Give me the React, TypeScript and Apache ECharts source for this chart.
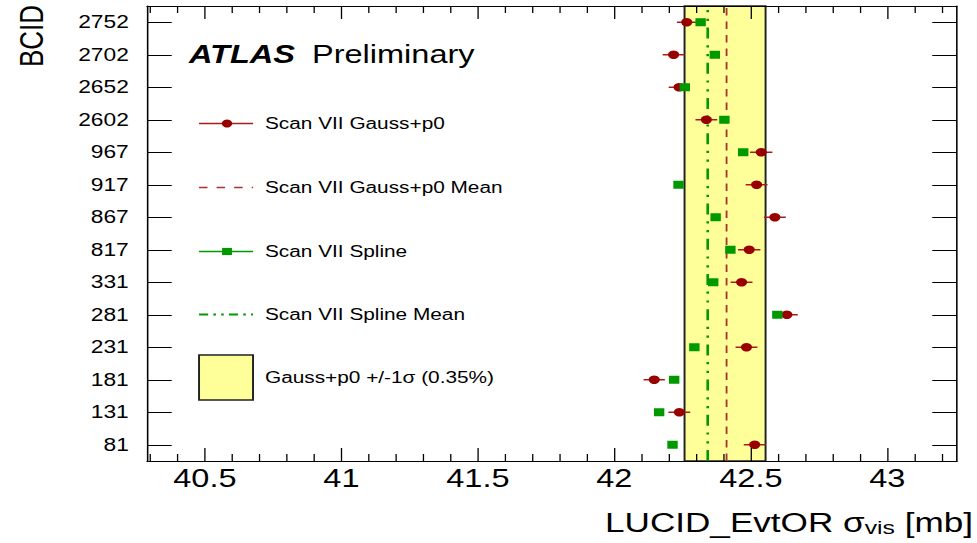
import React, { useEffect, useRef } from "react";
import * as echarts from "echarts";

// Drawing surface is laid out narrow and widened with a horizontal scale.
const CANVAS_W = 751;
const CANVAS_H = 543;
const STRETCH = 977 / CANVAS_W;

const FONT = "'Liberation Sans', Arial, Helvetica, sans-serif";

// Bunch crossing IDs, bottom to top
const bcids = ["81", "131", "181", "231", "281", "331", "817", "867", "917", "967", "2602", "2652", "2702", "2752"];

// sigma_vis [mb] per BCID, Gauss+p0 fit
const gaussValues = [42.514, 42.238, 42.146, 42.484, 42.632, 42.466, 42.494, 42.588, 42.521, 42.538, 42.337, 42.237, 42.217, 42.265];
const gaussErrors = [0.04, 0.04, 0.039, 0.04, 0.04, 0.04, 0.041, 0.04, 0.04, 0.041, 0.04, 0.038, 0.04, 0.036];

// sigma_vis [mb] per BCID, spline fit
const splineValues = [42.213, 42.164, 42.219, 42.293, 42.597, 42.362, 42.425, 42.371, 42.235, 42.472, 42.403, 42.258, 42.368, 42.316];

// relative width of the +/-1 sigma band, in percent
const sigmaPercent = 0.35;

const xMin = 40.288;
const xMax = 43.255;
const majorTicks = [40.5, 41, 41.5, 42, 42.5, 43];
const minorTicks = [40.3, 40.4, 40.6, 40.7, 40.8, 40.9, 41.1, 41.2, 41.3, 41.4, 41.6, 41.7, 41.8, 41.9, 42.1, 42.2, 42.3, 42.4, 42.6, 42.7, 42.8, 42.9, 43.1, 43.2];

const RED = "#990000";
const RED_BAR = "#a81c1c";
const RED_DASH = "#a83232";
const GREEN = "#009900";
const BAND = "#ffff99";

const mean = (a: number[]) => a.reduce((s, v) => s + v, 0) / a.length;

export default function App() {
  const ref = useRef<HTMLDivElement>(null);

  useEffect(() => {
    if (!ref.current) return;
    const chart = echarts.init(ref.current, undefined, { renderer: "svg", width: CANVAS_W, height: CANVAS_H });

    const gaussMean = mean(gaussValues);
    const splineMean = mean(splineValues);
    const halfBand = gaussMean * sigmaPercent / 100;

    const frameLine = { color: "#000", width: 1.2 };
    const tickLine = { color: "#000", width: 1 };

    const xBase = {
      type: "value" as const,
      min: xMin,
      max: xMax,
      z: 10,
      splitLine: { show: false },
    };

    const legendY = [123.5, 187.5, 251.5, 314.5, 377.5];
    const lx1 = 153, lx2 = 194.5, lmid = 174.5, ltx = 203.7;
    const legendText = (y: number, text: string) => ({
      type: "text",
      x: ltx,
      y,
      style: { text, fontSize: 16, fontFamily: FONT, fill: "#000", align: "left", verticalAlign: "middle" },
    });

    chart.setOption({
      animation: false,
      backgroundColor: "#fff",
      grid: { left: 113, right: 15.4, top: 6, bottom: 82, outerBoundsMode: "none", containLabel: false },
      xAxis: [
        {
          ...xBase,
          position: "bottom",
          axisLine: { show: true, onZero: false, lineStyle: frameLine },
          axisTick: { show: true, inside: true, length: 13, customValues: majorTicks, lineStyle: tickLine },
          axisLabel: { show: true, customValues: majorTicks, margin: 5, fontSize: 25, fontFamily: FONT, color: "#000" },
        },
        {
          ...xBase,
          position: "bottom",
          axisLine: { show: false, onZero: false },
          axisTick: { show: true, inside: true, length: 7, customValues: minorTicks, lineStyle: tickLine },
          axisLabel: { show: false },
        },
        {
          ...xBase,
          position: "top",
          axisLine: { show: true, onZero: false, lineStyle: frameLine },
          axisTick: { show: true, inside: true, length: 13, customValues: majorTicks, lineStyle: tickLine },
          axisLabel: { show: false },
        },
        {
          ...xBase,
          position: "top",
          axisLine: { show: false, onZero: false },
          axisTick: { show: true, inside: true, length: 7, customValues: minorTicks, lineStyle: tickLine },
          axisLabel: { show: false },
        },
      ],
      yAxis: [
        {
          type: "category",
          data: bcids,
          position: "left",
          z: 10,
          axisLine: { show: true, onZero: false, lineStyle: frameLine },
          axisTick: { show: true, inside: true, alignWithLabel: true, length: 19, lineStyle: tickLine },
          axisLabel: { show: true, margin: 14, fontSize: 17.5, fontFamily: FONT, color: "#000" },
          splitLine: { show: false },
        },
        {
          type: "category",
          data: bcids,
          position: "right",
          z: 10,
          axisLine: { show: true, onZero: false, lineStyle: frameLine },
          axisTick: { show: true, inside: true, alignWithLabel: true, length: 19, lineStyle: tickLine },
          axisLabel: { show: false },
          splitLine: { show: false },
        },
      ],
      series: [
        {
          name: "Scan VII Gauss+p0 errors",
          type: "custom",
          xAxisIndex: 0,
          yAxisIndex: 0,
          z: 3,
          encode: { x: [0, 1], y: 2 },
          data: gaussValues.map((v, i) => [v - gaussErrors[i], v + gaussErrors[i], i]),
          renderItem: (_params: any, api: any) => {
            const a = api.coord([api.value(0), api.value(2)]);
            const b = api.coord([api.value(1), api.value(2)]);
            return {
              type: "line",
              shape: { x1: a[0], y1: a[1], x2: b[0], y2: b[1] },
              style: { stroke: RED_BAR, lineWidth: 1.5 },
            };
          },
        },
        {
          name: "Scan VII Gauss+p0",
          type: "scatter",
          xAxisIndex: 0,
          yAxisIndex: 0,
          z: 4,
          symbol: "circle",
          symbolSize: 8.5,
          itemStyle: { color: RED, opacity: 1 },
          data: gaussValues.map((v, i) => [v, i]),
          markArea: {
            silent: true,
            z: 1,
            itemStyle: { color: BAND, borderColor: "#222", borderWidth: 1.5, opacity: 1 },
            label: { show: false },
            data: [[{ xAxis: gaussMean - halfBand }, { xAxis: gaussMean + halfBand }]],
          },
          markLine: {
            silent: true,
            z: 2,
            symbol: "none",
            label: { show: false },
            lineStyle: { color: RED_DASH, width: 1.4, type: [7.5, 6], opacity: 1 },
            data: [{ xAxis: gaussMean }],
          },
        },
        {
          name: "Scan VII Spline",
          type: "scatter",
          xAxisIndex: 0,
          yAxisIndex: 0,
          z: 4,
          symbol: "rect",
          symbolSize: 8,
          itemStyle: { color: GREEN, opacity: 1 },
          data: splineValues.map((v, i) => [v, i]),
          markLine: {
            silent: true,
            z: 2,
            symbol: "none",
            label: { show: false },
            lineStyle: { color: GREEN, width: 2, type: [11, 6.6, 2.2, 6.6, 2.2, 6.6], opacity: 1 },
            data: [{ xAxis: splineMean }],
          },
        },
      ],
      graphic: [
        {
          type: "text",
          x: 145.3,
          y: 54,
          style: { text: "ATLAS", fontSize: 25, fontWeight: "bold", fontStyle: "italic", fontFamily: FONT, fill: "#000", verticalAlign: "middle" },
        },
        {
          type: "text",
          x: 239.8,
          y: 54,
          style: { text: "Preliminary", fontSize: 25, fontFamily: FONT, fill: "#000", verticalAlign: "middle" },
        },
        // legend: Gauss+p0 points
        { type: "line", shape: { x1: lx1, y1: legendY[0], x2: lx2, y2: legendY[0] }, style: { stroke: RED_BAR, lineWidth: 1.3 } },
        { type: "circle", shape: { cx: lmid, cy: legendY[0], r: 4 }, style: { fill: RED } },
        legendText(legendY[0], "Scan VII Gauss+p0"),
        // legend: Gauss+p0 mean
        { type: "line", shape: { x1: lx1, y1: legendY[1], x2: lx2, y2: legendY[1] }, style: { stroke: RED_DASH, lineWidth: 1.4, lineDash: [6.5, 7] } },
        legendText(legendY[1], "Scan VII Gauss+p0 Mean"),
        // legend: spline points
        { type: "line", shape: { x1: lx1, y1: legendY[2], x2: lx2, y2: legendY[2] }, style: { stroke: GREEN, lineWidth: 1.3 } },
        { type: "rect", shape: { x: lmid - 3.8, y: legendY[2] - 3.6, width: 7.6, height: 7.2 }, style: { fill: GREEN } },
        legendText(legendY[2], "Scan VII Spline"),
        // legend: spline mean
        { type: "line", shape: { x1: lx1, y1: legendY[3], x2: lx2, y2: legendY[3] }, style: { stroke: GREEN, lineWidth: 2, lineDash: [7, 4, 2, 4, 2, 4] } },
        legendText(legendY[3], "Scan VII Spline Mean"),
        // legend: sigma band
        { type: "rect", shape: { x: lx1, y: 355, width: lx2 - lx1, height: 45 }, style: { fill: BAND, stroke: "#222", lineWidth: 1.5 } },
        legendText(legendY[4], "Gauss+p0 +/-1σ (" + sigmaPercent.toFixed(2) + "%)"),
        // axis titles
        {
          type: "text",
          x: 747.9,
          y: 509,
          style: {
            text: "{a|LUCID_EvtOR σ}{s|vis}{a| [mb]}",
            align: "right",
            verticalAlign: "top",
            fill: "#000",
            rich: {
              a: { fontSize: 27, lineHeight: 28, fontFamily: FONT, fill: "#000", verticalAlign: "middle" },
              s: { fontSize: 19, lineHeight: 8, fontFamily: FONT, fill: "#000", verticalAlign: "bottom" },
            },
          },
        },
        {
          type: "text",
          x: 23.7,
          y: 5,
          rotation: Math.PI / 2,
          style: { text: "BCID", fontSize: 26, fontFamily: FONT, fill: "#000", align: "right", verticalAlign: "middle" },
        },
      ],
    });

    return () => chart.dispose();
  }, []);

  return (
    <div style={{ position: "fixed", left: 0, top: 0, width: 977, height: 543, overflow: "hidden", background: "#fff" }}>
      <div
        ref={ref}
        style={{ width: CANVAS_W, height: CANVAS_H, transform: `scaleX(${STRETCH})`, transformOrigin: "0 0" }}
      />
    </div>
  );
}
